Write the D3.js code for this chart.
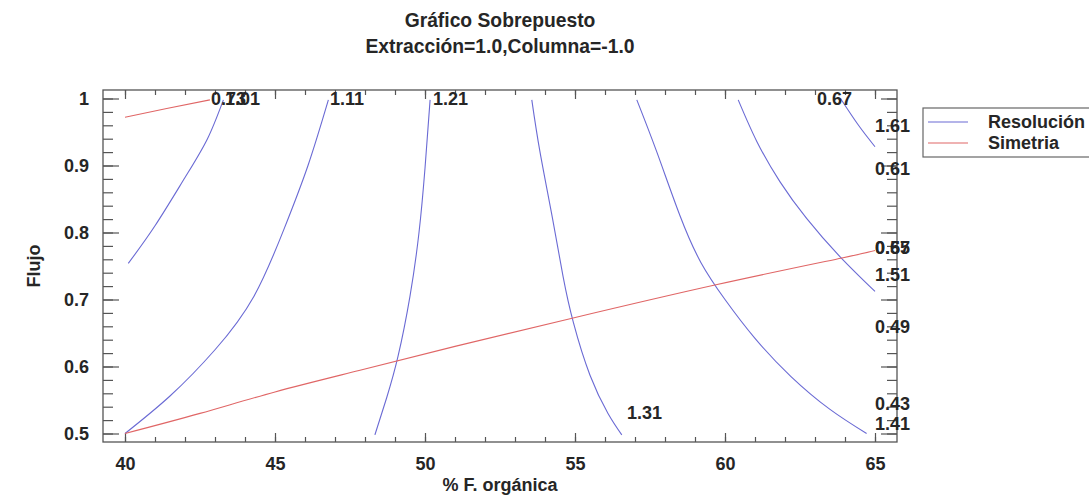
<!DOCTYPE html>
<html>
<head>
<meta charset="utf-8">
<script src="https://cdn.jsdelivr.net/npm/d3@7"></script>
<style>
  body { margin: 0; background: #fff; }
  text { font-family: "Liberation Sans", Arial, sans-serif; font-weight: bold; fill: #262626; }
</style>
</head>
<body>
<svg id="chart" width="1089" height="496"></svg>
<script>
// Axis tick values
const xMajorTicks = [40, 45, 50, 55, 60, 65];
const xMinorTicks = d3.range(40, 65.5, 1);
const yMajorTicks = [0.5, 0.6, 0.7, 0.8, 0.9, 1];
const yMinorTicks = d3.range(0.5, 1.001, 0.02);

// Resolución contours: [% F. orgánica, Flujo]
const res101 = [[40.11,0.754],[41.0,0.81],[42.0,0.882],[42.75,0.94],[43.28,0.998]];
const res111 = [[40.0,0.5],[41.5,0.556],[43.0,0.625],[44.3,0.705],[45.3,0.805],[46.1,0.9],[46.78,0.998]];
const res121 = [[48.33,0.498],[48.72,0.553],[49.1,0.615],[49.5,0.705],[49.8,0.8],[50.0,0.896],[50.17,0.998]];
const res131 = [[53.56,0.998],[53.83,0.921],[54.25,0.821],[54.6,0.735],[54.95,0.665],[55.5,0.587],[56.1,0.53],[56.56,0.498]];
const res141 = [[57.06,0.998],[57.72,0.921],[58.5,0.825],[59.2,0.755],[60.0,0.7],[61.0,0.642],[62.2,0.585],[63.5,0.536],[64.72,0.5]];
const res151 = [[60.44,0.998],[61.06,0.936],[61.83,0.876],[62.72,0.821],[63.83,0.764],[65.0,0.712]];
const res161 = [[63.85,1.0],[64.45,0.96],[65.0,0.928]];

// Simetria contours
const sim073 = [[40.0,0.972],[41.39,0.985],[42.83,0.998]];
const sim055 = [[40.0,0.5],[42.5,0.53],[45.0,0.562],[47.8,0.594],[51.0,0.63],[54.8,0.671],[59.7,0.722],[63.9,0.762],[65.0,0.773]];

const resolucionCurves = [res101, res111, res121, res131, res141, res151, res161];
const simetriaCurves = [sim073, sim055];

// Contour level labels: text and anchor point [% F. orgánica, Flujo]
const labelTexts  = ["0.73", "1.01", "1.11", "1.21", "0.67", "1.61", "0.61", "0.55", "0.67", "1.51", "0.49", "0.43", "1.41", "1.31"];
const labelPoints = [[42.87,1.0],[43.33,1.0],[46.83,1.0],[50.27,1.0],[63.07,1.0],[65.0,0.959],[65.0,0.896],[65.0,0.778],[65.0,0.778],[65.0,0.737],[65.0,0.659],[65.0,0.545],[65.0,0.515],[56.73,0.531]];

const legendNames = ["Resolución", "Simetria"];
const seriesColors = ["#6a6ad4", "#e06666"];

const titleLines = ["Gráfico Sobrepuesto", "Extracción=1.0,Columna=-1.0"];
const xTitle = "% F. orgánica";
const yTitle = "Flujo";

// Layout
const frame = { left: 103, right: 897, top: 90, bottom: 442 };
const fontSize = 18;
const titleSize = 19.3;

const svg = d3.select("#chart");

const x = d3.scaleLinear().domain([40, 65]).range([125, 875]);
const y = d3.scaleLinear().domain([0.5, 1]).range([433.5, 98.5]);

// Titles
svg.selectAll("text.title").data(titleLines).join("text")
  .attr("class", "title")
  .attr("x", (frame.left + frame.right) / 2)
  .attr("y", (d, i) => 26.5 + i * 26.5)
  .attr("text-anchor", "middle")
  .style("font-size", titleSize + "px")
  .text(d => d);

// Frame
svg.append("rect")
  .attr("x", frame.left).attr("y", frame.top)
  .attr("width", frame.right - frame.left).attr("height", frame.bottom - frame.top)
  .attr("fill", "none").attr("stroke", "#555").attr("stroke-width", 1.3);

function styleAxis(g) {
  g.select(".domain").remove();
  g.selectAll("line").attr("stroke", "#555").attr("stroke-width", 1.2);
  g.selectAll("text").style("font-size", fontSize + "px").attr("fill", "#262626")
    .style("font-family", "'Liberation Sans', Arial, sans-serif").style("font-weight", "bold");
}

// Bottom axis (labels + ticks pointing inward)
svg.append("g").attr("transform", `translate(0,${frame.bottom})`)
  .call(d3.axisBottom(x).tickValues(xMinorTicks).tickSize(-5).tickFormat(""))
  .call(styleAxis);
svg.append("g").attr("transform", `translate(0,${frame.bottom})`)
  .call(d3.axisBottom(x).tickValues(xMajorTicks).tickSize(-9).tickPadding(15).tickFormat(d3.format("d")))
  .call(styleAxis);
// Top axis ticks
svg.append("g").attr("transform", `translate(0,${frame.top})`)
  .call(d3.axisTop(x).tickValues(xMinorTicks).tickSize(-5).tickFormat(""))
  .call(styleAxis);
svg.append("g").attr("transform", `translate(0,${frame.top})`)
  .call(d3.axisTop(x).tickValues(xMajorTicks).tickSize(-9).tickFormat(""))
  .call(styleAxis);

// Left axis
svg.append("g").attr("transform", `translate(${frame.left},0)`)
  .call(d3.axisLeft(y).tickValues(yMinorTicks).tickSize(-10).tickFormat(""))
  .call(styleAxis);
svg.append("g").attr("transform", `translate(${frame.left},0)`)
  .call(d3.axisLeft(y).tickValues(yMajorTicks).tickSize(-16).tickPadding(14).tickFormat(d => d3.format("")(+d.toFixed(1))))
  .call(styleAxis);
// Right axis ticks
svg.append("g").attr("transform", `translate(${frame.right},0)`)
  .call(d3.axisRight(y).tickValues(yMinorTicks).tickSize(-10).tickFormat(""))
  .call(styleAxis);
svg.append("g").attr("transform", `translate(${frame.right},0)`)
  .call(d3.axisRight(y).tickValues(yMajorTicks).tickSize(-16).tickFormat(""))
  .call(styleAxis);

// Contour lines
const line = d3.line().x(d => x(d[0])).y(d => y(d[1])).curve(d3.curveNatural);

svg.append("g").selectAll("path").data(resolucionCurves).join("path")
  .attr("d", line).attr("fill", "none").attr("stroke", seriesColors[0]).attr("stroke-width", 1.1);
svg.append("g").selectAll("path").data(simetriaCurves).join("path")
  .attr("d", line).attr("fill", "none").attr("stroke", seriesColors[1]).attr("stroke-width", 1.1);

// Contour labels
svg.append("g").selectAll("text").data(labelTexts).join("text")
  .attr("x", (d, i) => x(labelPoints[i][0]))
  .attr("y", (d, i) => y(labelPoints[i][1]))
  .attr("dy", "0.36em")
  .style("font-size", fontSize + "px")
  .text(d => d);

// Axis titles
svg.append("text")
  .attr("x", (frame.left + frame.right) / 2).attr("y", 491)
  .attr("text-anchor", "middle").style("font-size", fontSize + "px")
  .text(xTitle);
svg.append("text")
  .attr("transform", `translate(40,${(frame.top + frame.bottom) / 2}) rotate(-90)`)
  .attr("text-anchor", "middle").style("font-size", fontSize + "px")
  .text(yTitle);

// Legend
const legend = svg.append("g");
legend.append("rect")
  .attr("x", 923).attr("y", 108).attr("width", 180).attr("height", 49)
  .attr("fill", "#fff").attr("stroke", "#666").attr("stroke-width", 1.2);
legendNames.forEach((name, i) => {
  const ly = 122 + i * 21;
  legend.append("line").attr("x1", 928).attr("x2", 968).attr("y1", ly).attr("y2", ly)
    .attr("stroke", seriesColors[i]).attr("stroke-width", 1.1);
  legend.append("text").attr("x", 988).attr("y", ly).attr("dy", "0.36em")
    .style("font-size", fontSize + "px").text(name);
});
</script>
</body>
</html>
